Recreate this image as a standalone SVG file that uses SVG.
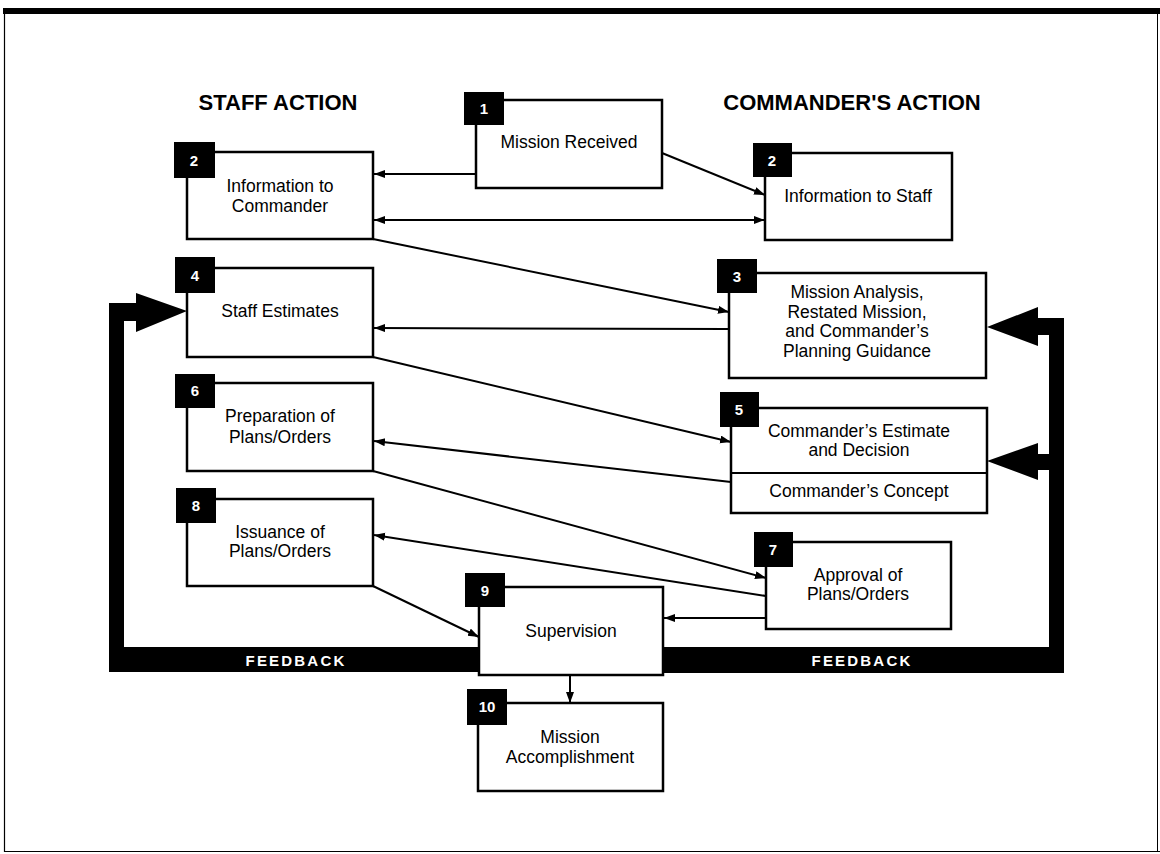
<svg xmlns="http://www.w3.org/2000/svg" width="1160" height="854" viewBox="0 0 1160 854">
<style>
.box{fill:#fff;stroke:#000;stroke-width:2.5}
.sq{fill:#000}
.nt{fill:#fff;font-family:"Liberation Sans",Arial,sans-serif;font-weight:bold;font-size:15px;text-anchor:middle}
.lbl{fill:#000;font-family:"Liberation Sans",Arial,sans-serif;font-size:17.5px;text-anchor:middle}
.ttl{fill:#000;font-family:"Liberation Sans",Arial,sans-serif;font-weight:bold;font-size:22px;text-anchor:middle}
.fb{fill:#fff;font-family:"Liberation Sans",Arial,sans-serif;font-weight:bold;font-size:15px;letter-spacing:2.2px;text-anchor:middle}
.c{stroke:#000;stroke-width:2;fill:none;marker-end:url(#ah)}
</style>
<defs>
<marker id="ah" markerUnits="userSpaceOnUse" markerWidth="12" markerHeight="10" refX="11" refY="4" orient="auto">
<path d="M0,0 L11,4 L0,8 Z" fill="#000"/>
</marker>
<marker id="ahs" markerUnits="userSpaceOnUse" markerWidth="12" markerHeight="10" refX="0" refY="4" orient="auto">
<path d="M11,0 L0,4 L11,8 Z" fill="#000"/>
</marker>
</defs>
<rect width="1160" height="854" fill="#fff"/>
<g id="frame">
<rect x="3" y="8" width="1157" height="6" fill="#000"/>
<line x1="4.5" y1="12" x2="4.5" y2="852" stroke="#000" stroke-width="1.2"/>
<line x1="4" y1="851.5" x2="1160" y2="851.5" stroke="#000" stroke-width="1.2"/>
<line x1="1157.5" y1="12" x2="1157.5" y2="852" stroke="#000" stroke-width="1"/>
</g>
<g id="titles">
<text class="ttl" x="278" y="110">STAFF ACTION</text>
<text class="ttl" x="852" y="110">COMMANDER'S ACTION</text>
</g>
<g id="feedback">
<path d="M109,303 H136 V293 L187,311 L136,332 V321 H124 V647 H479 V672 H109 Z" fill="#000"/>
<path d="M663,647 H1049 V470 H1038 V480 L987,461 L1038,443 V454 H1049 V335 H1038 V346 L987,327 L1038,307 V318 H1064 V673 H663 Z" fill="#000"/>
<text class="fb" x="296" y="666">FEEDBACK</text>
<text class="fb" x="862" y="666">FEEDBACK</text>
</g>
<g id="connectors">
<line class="c" x1="476" y1="174" x2="374" y2="174"/>
<line class="c" x1="662" y1="153" x2="765" y2="195"/>
<line class="c" x1="374" y1="220" x2="765" y2="220" marker-start="url(#ahs)"/>
<line class="c" x1="373" y1="239" x2="729" y2="312"/>
<line class="c" x1="729" y1="329" x2="374" y2="328"/>
<line class="c" x1="373" y1="357" x2="731" y2="442"/>
<line class="c" x1="731" y1="482" x2="374" y2="441"/>
<line class="c" x1="373" y1="471" x2="766" y2="578"/>
<line class="c" x1="766" y1="596" x2="374" y2="535"/>
<line class="c" x1="373" y1="586" x2="479" y2="637"/>
<line class="c" x1="766" y1="618" x2="664" y2="618"/>
<line class="c" x1="570" y1="675" x2="570" y2="703"/>
</g>
<g id="n1">
<rect class="box" x="476" y="100" width="186" height="88"/>
<rect class="sq" x="464" y="92" width="40" height="33"/>
<text class="nt" x="484" y="114">1</text>
<text class="lbl" x="569" y="148">Mission Received</text>
</g>
<g id="n2s">
<rect class="box" x="187" y="152" width="186" height="87"/>
<rect class="sq" x="174" y="142" width="41" height="36"/>
<text class="nt" x="194" y="166">2</text>
<text class="lbl" x="280" y="192">Information to</text>
<text class="lbl" x="280" y="212">Commander</text>
</g>
<g id="n2c">
<rect class="box" x="765" y="153" width="187" height="87"/>
<rect class="sq" x="753" y="143" width="39" height="34"/>
<text class="nt" x="772" y="166">2</text>
<text class="lbl" x="858" y="202">Information to Staff</text>
</g>
<g id="n3">
<rect class="box" x="729" y="273" width="257" height="105"/>
<rect class="sq" x="717" y="259" width="40" height="34"/>
<text class="nt" x="737" y="282">3</text>
<text class="lbl" x="857" y="298">Mission Analysis,</text>
<text class="lbl" x="857" y="318">Restated Mission,</text>
<text class="lbl" x="857" y="337">and Commander’s</text>
<text class="lbl" x="857" y="357">Planning Guidance</text>
</g>
<g id="n4">
<rect class="box" x="187" y="268" width="186" height="89"/>
<rect class="sq" x="175" y="257" width="40" height="36"/>
<text class="nt" x="195" y="281">4</text>
<text class="lbl" x="280" y="317">Staff Estimates</text>
</g>
<g id="n5">
<rect class="box" x="731" y="408" width="256" height="105"/>
<line x1="731" y1="473" x2="987" y2="473" stroke="#000" stroke-width="2"/>
<rect class="sq" x="720" y="392" width="39" height="35"/>
<text class="nt" x="739" y="415">5</text>
<text class="lbl" x="859" y="437">Commander’s Estimate</text>
<text class="lbl" x="859" y="456">and Decision</text>
<text class="lbl" x="859" y="497">Commander’s Concept</text>
</g>
<g id="n6">
<rect class="box" x="187" y="383" width="186" height="88"/>
<rect class="sq" x="175" y="374" width="40" height="34"/>
<text class="nt" x="195" y="396">6</text>
<text class="lbl" x="280" y="422">Preparation of</text>
<text class="lbl" x="280" y="443">Plans/Orders</text>
</g>
<g id="n7">
<rect class="box" x="766" y="542" width="185" height="87"/>
<rect class="sq" x="754" y="532" width="39" height="35"/>
<text class="nt" x="773" y="555">7</text>
<text class="lbl" x="858" y="581">Approval of</text>
<text class="lbl" x="858" y="600">Plans/Orders</text>
</g>
<g id="n8">
<rect class="box" x="187" y="499" width="186" height="87"/>
<rect class="sq" x="176" y="488" width="40" height="35"/>
<text class="nt" x="196" y="511">8</text>
<text class="lbl" x="280" y="538">Issuance of</text>
<text class="lbl" x="280" y="557">Plans/Orders</text>
</g>
<g id="n9">
<rect class="box" x="479" y="587" width="184" height="88"/>
<rect class="sq" x="465" y="573" width="40" height="34"/>
<text class="nt" x="485" y="596">9</text>
<text class="lbl" x="571" y="637">Supervision</text>
</g>
<g id="n10">
<rect class="box" x="478" y="703" width="185" height="88"/>
<rect class="sq" x="467" y="689" width="40" height="36"/>
<text class="nt" x="487" y="712">10</text>
<text class="lbl" x="570" y="743">Mission</text>
<text class="lbl" x="570" y="763">Accomplishment</text>
</g>
</svg>
